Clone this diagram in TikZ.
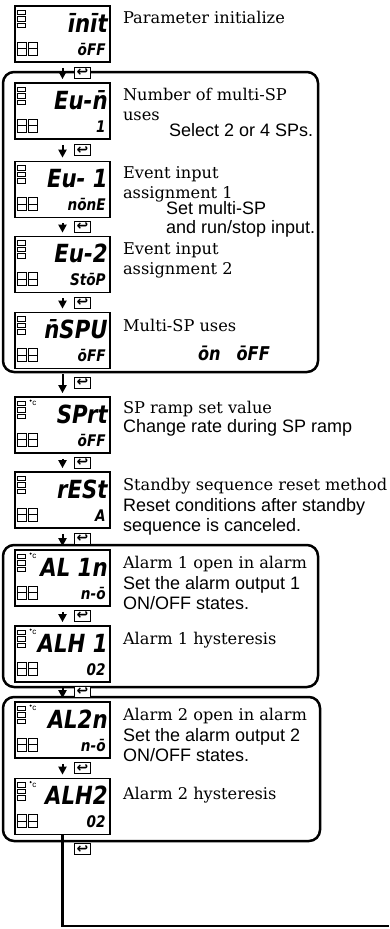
\documentclass[tikz,border=0pt]{standalone}
\usepackage{fontspec}
\setmainfont{DejaVu Serif}
\newfontfamily\helv{Liberation Sans}
\newfontfamily\segfont{DejaVu Sans}[FakeStretch=0.85]
\newfontfamily\symfont{DejaVu Sans}
\usetikzlibrary{arrows.meta, positioning, calc}

\begin{document}
\begin{tikzpicture}[
  x=1pt, y=-1pt,
  disp/.style={draw, line width=1.7pt, minimum width=95pt,
               minimum height=56pt, inner sep=0pt},
  grp/.style={line width=2.5pt, rounded corners=11pt},
  arr/.style={-{Triangle[length=8pt, width=8pt]}, line width=2pt,
              shorten <=5pt, shorten >=3pt},
  keyicon/.style={draw, fill=white, line width=1pt, minimum width=16pt,
                  minimum height=11pt, inner sep=0pt,
                  font=\symfont\bfseries\fontsize{14}{14}\selectfont},
  lamp/.style={line width=0.7pt},
  desc/.style={anchor=north west, inner sep=0pt, align=left,
               font=\fontsize{16.2}{19.5}\selectfont},
  note/.style={anchor=north west, inner sep=0pt, align=left,
               font=\helv\fontsize{18}{19.5}\selectfont},
  segbig/.style={anchor=base east, inner sep=0pt,
                 font=\segfont\bfseries\itshape\fontsize{25}{25}\selectfont},
  segval/.style={anchor=base east, inner sep=0pt,
                 font=\segfont\bfseries\itshape\fontsize{16}{16}\selectfont},
  degc/.style={anchor=north west, inner sep=0pt,
               font=\helv\fontsize{8}{8}\selectfont},
  flow/.style={line width=2.8pt}
]
\useasboundingbox (0,0) rectangle (389,929);

% group frames
\draw[grp] (3,72) rectangle (318,372);
\draw[grp] (3,545) rectangle (318,687);
\draw[grp] (3,697) rectangle (320,841);

% displays
\node[disp] (d1)  at (62.5,34)    {};
\node[disp] (d2)  at (62.5,111)   {};
\node[disp] (d3)  at (62.5,189.5) {};
\node[disp] (d4)  at (62.5,264.5) {};
\node[disp] (d5)  at (62.5,340.5) {};
\node[disp] (d6)  at (62.5,425)   {};
\node[disp] (d7)  at (62.5,500)   {};
\node[disp] (d8)  at (62.5,578)   {};
\node[disp] (d9)  at (62.5,654)   {};
\node[disp] (d10) at (62.5,730)   {};
\node[disp] (d11) at (62.5,806.5) {};

% lamps on every display
\foreach \n in {d1,d2,d3,d4,d5,d6,d7,d8,d9,d10,d11}{
  \foreach \r in {5,11.5,18}
    \draw[lamp] ($(\n.north west)+(3,\r)$) rectangle +(8.5,4.5);
  \foreach \c in {3,14} \foreach \r in {37,43.5}
    \draw[lamp] ($(\n.north west)+(\c,\r)$) rectangle +(9.5,6.5);
}
\foreach \n in {d6,d8,d9,d10,d11}{
  \fill ($(\n.north west)+(16.5,4.5)$) circle (1.1pt);
  \node[degc] (\n c) at ($(\n.north west)+(18,5)$) {c};
}

% segment readings
\node[segbig] (s1)  at ($(d1.north east)+(-3,27)$)  {īnīt};
\node[segval] (v1)  at ($(d1.north east)+(-5,50)$)  {ōFF};
\node[segbig] (s2)  at ($(d2.north east)+(-3,27)$)  {Eu-n̄};
\node[segval] (v2)  at ($(d2.north east)+(-5,50)$)  {1};
\node[segbig] (s3)  at ($(d3.north east)+(-3,27)$)  {Eu- 1};
\node[segval] (v3)  at ($(d3.north east)+(-5,50)$)  {nōnE};
\node[segbig] (s4)  at ($(d4.north east)+(-3,27)$)  {Eu-2};
\node[segval] (v4)  at ($(d4.north east)+(-5,50)$)  {StōP};
\node[segbig] (s5)  at ($(d5.north east)+(-3,27)$)  {n̄SPU};
\node[segval] (v5)  at ($(d5.north east)+(-5,50)$)  {ōFF};
\node[segbig] (s6)  at ($(d6.north east)+(-3,27)$)  {SPrt};
\node[segval] (v6)  at ($(d6.north east)+(-5,50)$)  {ōFF};
\node[segbig] (s7)  at ($(d7.north east)+(-3,27)$)  {rESt};
\node[segval] (v7)  at ($(d7.north east)+(-5,50)$)  {A};
\node[segbig] (s8)  at ($(d8.north east)+(-3,27)$)  {AL 1n};
\node[segval] (v8)  at ($(d8.north east)+(-5,50)$)  {n-ō};
\node[segbig] (s9)  at ($(d9.north east)+(-3,27)$)  {ALH 1};
\node[segval] (v9)  at ($(d9.north east)+(-5,50)$)  {02};
\node[segbig] (s10) at ($(d10.north east)+(-3,27)$) {AL2n};
\node[segval] (v10) at ($(d10.north east)+(-5,50)$) {n-ō};
\node[segbig] (s11) at ($(d11.north east)+(-3,27)$) {ALH2};
\node[segval] (v11) at ($(d11.north east)+(-5,50)$) {02};

% descriptions
\node[desc] (t1)  at ($(d1.north east)+(12,6)$)  {Parameter initialize};
\node[desc] (t2)  at ($(d2.north east)+(12,6)$)  {Number of multi-SP\\uses};
\node[note] (n2)  at ($(d2.north east)+(58,41.5)$) {Select 2 or 4 SPs.};
\node[desc] (t3)  at ($(d3.north east)+(12,6)$)  {Event input\\assignment 1};
\node[note] (n3)  at ($(d3.north east)+(55,40.5)$) {Set multi-SP\\and run/stop input.};
\node[desc] (t4)  at ($(d4.north east)+(12,7)$)  {Event input\\assignment 2};
\node[desc] (t5)  at ($(d5.north east)+(12,7)$)  {Multi-SP uses};
\node[segval, anchor=base west, font=\segfont\bfseries\itshape\fontsize{19}{19}\selectfont]
  (o5) at ($(d5.north east)+(87,49)$) {ōn\hspace{16pt}ōFF};
\node[desc] (t6)  at ($(d6.north east)+(12,5)$)  {SP ramp set value};
\node[note] (n6)  at ($(d6.north east)+(12,23)$) {Change rate during SP ramp};
\node[desc] (t7)  at ($(d7.north east)+(12,7)$)  {Standby sequence reset method};
\node[note] (n7)  at ($(d7.north east)+(12,27.5)$) {Reset conditions after standby\\sequence is canceled.};
\node[desc] (t8)  at ($(d8.north east)+(12,7)$)  {Alarm 1 open in alarm};
\node[note] (n8)  at ($(d8.north east)+(12,27.5)$) {Set the alarm output 1\\ON/OFF states.};
\node[desc] (t9)  at ($(d9.north east)+(12,7)$)  {Alarm 1 hysteresis};
\node[desc] (t10) at ($(d10.north east)+(12,7)$) {Alarm 2 open in alarm};
\node[note] (n10) at ($(d10.north east)+(12,27.5)$) {Set the alarm output 2\\ON/OFF states.};
\node[desc] (t11) at ($(d11.north east)+(12,9)$) {Alarm 2 hysteresis};

% flow arrows with key marks
\draw[arr] (d1) -- (d2);
\draw[arr] (d2) -- (d3);
\draw[arr] (d3) -- (d4);
\draw[arr] (d4) -- (d5);
\draw[arr] (d5) -- (d6);
\draw[arr] (d6) -- (d7);
\draw[arr] (d7) -- (d8);
\draw[arr] (d8) -- (d9);
\draw[arr] (d9) -- (d10);
\draw[arr] (d10) -- (d11);

\node[keyicon] (k1)  at ($(d1.south)!0.5!(d2.north)+(20,0)$)  {↩};
\node[keyicon] (k2)  at ($(d2.south)!0.5!(d3.north)+(20,0)$)  {↩};
\node[keyicon] (k3)  at ($(d3.south)!0.5!(d4.north)+(20,0)$)  {↩};
\node[keyicon] (k4)  at ($(d4.south)!0.5!(d5.north)+(20,0)$)  {↩};
\node[keyicon] (k5)  at ($(d5.south)!0.5!(d6.north)+(20,0)$)  {↩};
\node[keyicon] (k6)  at ($(d6.south)!0.5!(d7.north)+(20,0)$)  {↩};
\node[keyicon] (k7)  at ($(d7.south)!0.5!(d8.north)+(20,0)$)  {↩};
\node[keyicon] (k8)  at ($(d8.south)!0.5!(d9.north)+(20,0)$)  {↩};
\node[keyicon] (k9)  at ($(d9.south)!0.5!(d10.north)+(20,0)$) {↩};
\node[keyicon] (k10) at ($(d10.south)!0.5!(d11.north)+(20,0)$) {↩};
\node[keyicon] (k11) at ($(d11.south)+(20,14)$) {↩};

% return line
\coordinate (exit) at (389,926);
\draw[flow] (d11.south) |- (exit);

\end{tikzpicture}
\end{document}
